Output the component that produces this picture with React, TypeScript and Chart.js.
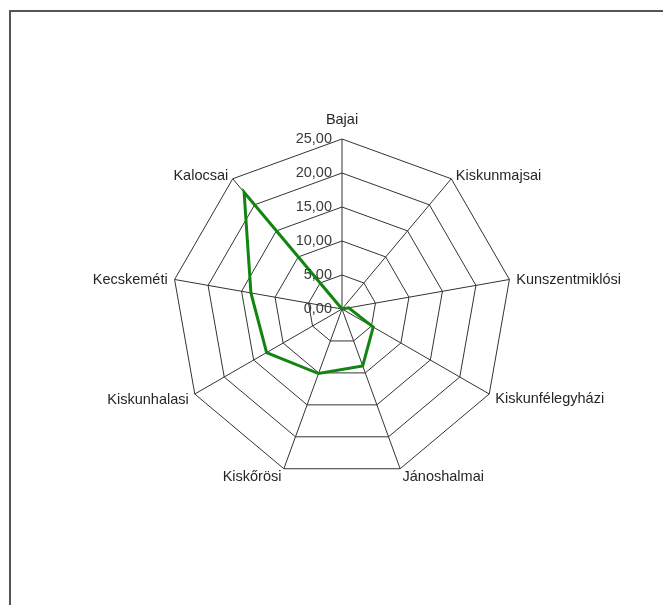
import React, { useEffect, useRef } from "react";
import { Chart, registerables } from "chart.js";

Chart.register(...registerables);

const categories: string[] = [
  "Bajai",
  "Kiskunmajsai",
  "Kunszentmiklósi",
  "Kiskunfélegyházi",
  "Jánoshalmai",
  "Kiskőrösi",
  "Kiskunhalasi",
  "Kecskeméti",
  "Kalocsai",
];

const values: number[] = [0, 0, 1, 5.3, 8.9, 10.1, 12.8, 13.6, 22.4];

const tickValues: number[] = [0, 5, 10, 15, 20, 25];
const tickLabels: string[] = ["0,00", "5,00", "10,00", "15,00", "20,00", "25,00"];

const FONT = "14.5px 'Liberation Sans', Arial, sans-serif";

const labelPlugin = {
  id: "excelLabels",
  afterDraw(chart: any) {
    const scale = chart.scales.r;
    const ctx = chart.ctx;
    const r = scale.drawingArea;
    ctx.save();
    ctx.font = FONT;
    ctx.fillStyle = "#262626";
    // point labels
    categories.forEach((lab, i) => {
      const angle = (i / categories.length) * Math.PI * 2;
      const s = Math.sin(angle);
      if (Math.abs(s) < 0.01) {
        const p = scale.getPointPosition(i, r + 12);
        ctx.textAlign = "center";
        ctx.textBaseline = "bottom";
        ctx.fillText(lab, p.x, p.y);
      } else {
        const p = scale.getPointPosition(i, r + 7);
        ctx.textAlign = s > 0 ? "left" : "right";
        ctx.textBaseline = "middle";
        const c = Math.cos(angle);
        const dy = c > 0.5 ? 3 : c < -0.5 ? 2 : 1.5;
        ctx.fillText(lab, p.x, p.y + dy);
      }
    });
    // tick labels
    ctx.fillStyle = "#3a3a3a";
    ctx.textAlign = "right";
    ctx.textBaseline = "middle";
    tickValues.forEach((v, i) => {
      const d = scale.getDistanceFromCenterForValue(v);
      ctx.fillText(tickLabels[i], scale.xCenter - 10, scale.yCenter - d);
    });
    ctx.restore();
  },
};

export default function App() {
  const canvasRef = useRef<HTMLCanvasElement | null>(null);

  useEffect(() => {
    if (!canvasRef.current) return;
    const chart = new Chart(canvasRef.current, {
      type: "radar",
      data: {
        labels: categories,
        datasets: [
          {
            data: values,
            borderColor: "rgb(16,134,16)",
            borderWidth: 3,
            fill: false,
            pointRadius: 0,
            pointHoverRadius: 0,
            tension: 0,
          },
        ],
      },
      options: {
        animation: false,
        responsive: false,
        maintainAspectRatio: false,
        layout: { padding: { left: 172, right: 151, top: 139, bottom: 126 } },
        plugins: { legend: { display: false }, tooltip: { enabled: false } },
        scales: {
          r: {
            min: 0,
            max: 25,
            ticks: { stepSize: 5, display: false },
            grid: { color: "#333333", lineWidth: 1 },
            angleLines: { color: "#333333", lineWidth: 1 },
            pointLabels: { display: false },
          },
        },
      },
      plugins: [labelPlugin],
    });
    return () => chart.destroy();
  }, []);

  return (
    <div
      style={{
        position: "fixed",
        left: 0,
        top: 0,
        width: 663,
        height: 605,
        overflow: "hidden",
        background: "#fff",
      }}
    >
      <div
        style={{
          position: "absolute",
          left: 9,
          top: 10,
          width: 800,
          height: 800,
          borderTop: "2px solid #555",
          borderLeft: "2px solid #555",
        }}
      />
      <canvas
        ref={canvasRef}
        width={663}
        height={605}
        style={{ position: "absolute", left: 0, top: 0, width: 663, height: 605 }}
      />
    </div>
  );
}
